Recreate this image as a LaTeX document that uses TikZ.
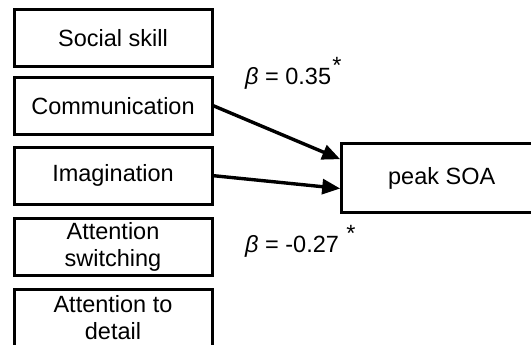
\documentclass[tikz,border=0pt]{standalone}
\usepackage{fontspec}
\setmainfont{Liberation Sans}
\usetikzlibrary{calc}
\usetikzlibrary{arrows.meta}
\tikzset{factor/.style={draw, line width=3pt, minimum width=198pt, minimum height=57pt, inner sep=0pt, align=center, font=\fontsize{23.5}{26.5}\selectfont}}
\tikzset{coef/.style={inner sep=0pt, font=\fontsize{23.5}{26.5}\selectfont}}
\tikzset{effect/.style={line width=3.4pt, -{Triangle[length=18pt,width=15pt]}}}

\begin{document}
\begin{tikzpicture}[x=1pt,y=-1pt]
        \useasboundingbox (0,0) rectangle (531,345);
        \clip (0,0) rectangle (531,345);
        %nodes
        \node[factor] (social) at (113,38.5) {Social skill};
        \node[factor] (comm) at (113,105.8) {Communication};
        \node[factor] (imag) at (113,175.7) {Imagination};
        \node[factor] (switch) at (113,246.7) {Attention\\switching};
        \node[factor] (detail) at (113,317.8) {Attention to\\detail};
        \node[factor, minimum width=200pt, minimum height=69.3pt] (peak) at (441.7,178) {peak SOA};
        %edges
        \draw[effect] (comm.east) -- ($(peak.north west)!0.24!(peak.south west)$);
        \draw[effect] (imag.east) -- ($(peak.north west)!0.645!(peak.south west)$);
        %labels
        \node[coef, anchor=base west] (beta1) at (245,85) {{\itshape β} = 0.35};
        \node[coef, anchor=base] (star1) at (337,73.6) {*};
        \node[coef, anchor=base west] (beta2) at (245,252) {{\itshape β} = -0.27};
        \node[coef, anchor=base] (star2) at (351,241.6) {*};
\end{tikzpicture}
\end{document}
